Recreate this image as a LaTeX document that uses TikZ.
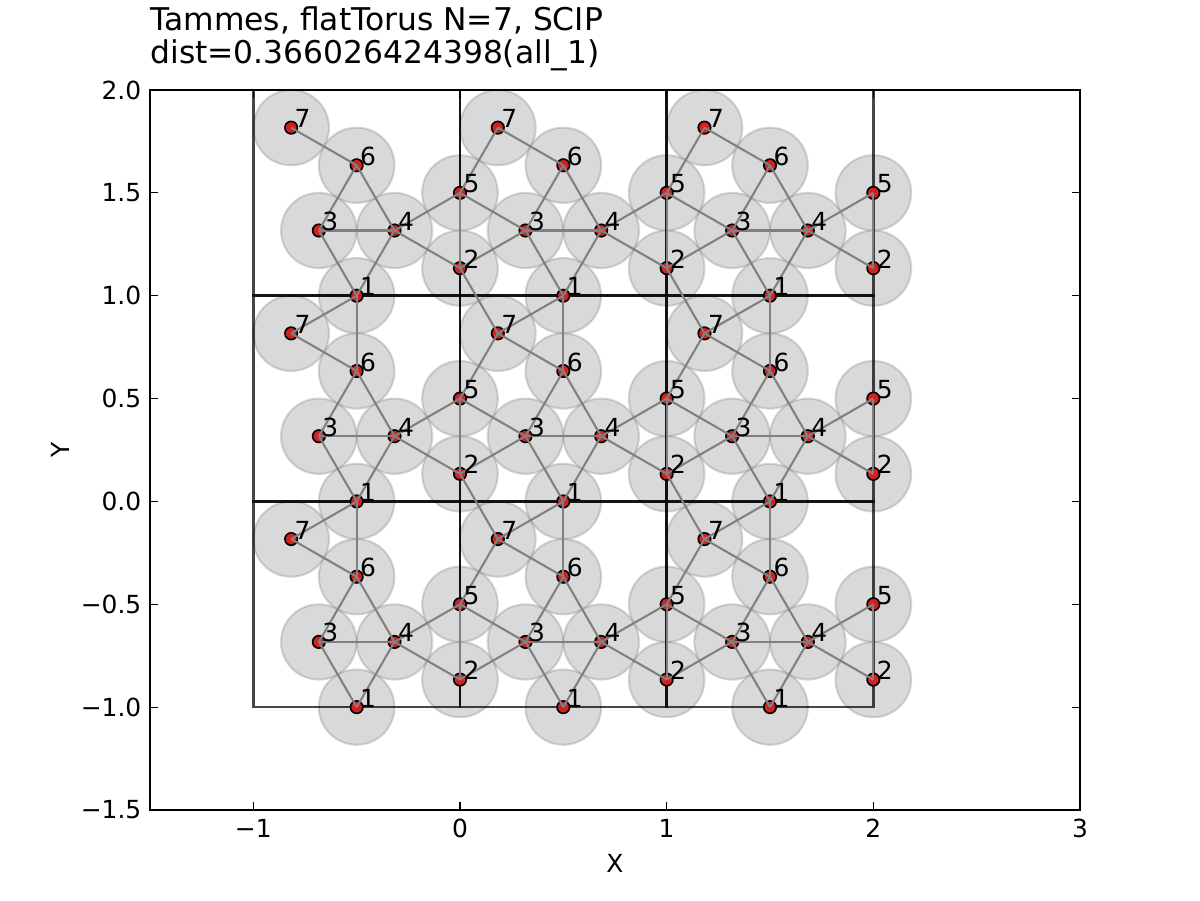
\documentclass[tikz,border=0pt]{standalone}
\usepackage{fontspec}
\setmainfont{DejaVu Sans}
\definecolor{markred}{RGB}{214,32,32}
\begin{document}
\begin{tikzpicture}[x=1.377778in,y=1.371429in,
  disk/.style={fill=black!50, fill opacity=0.3, draw=black!50, draw opacity=0.3, line width=1pt},
  cellbox/.style={draw=black, draw opacity=0.72, line width=1.2pt},
  dot/.style={circle, inner sep=0pt, minimum size=6pt, fill=markred, draw=black, line width=0.8pt},
  link/.style={draw=black!50, line width=1pt},
  lab/.style={anchor=base west, inner sep=0pt, font=\fontsize{12}{14}\selectfont},
  tickmark/.style={line width=0.5pt},
  ticklab/.style={inner sep=0pt, font=\fontsize{12}{14}\selectfont},
  titlelab/.style={anchor=base west, inner sep=0pt, font=\fontsize{15.1}{18}\selectfont}
]
\useasboundingbox (-2.225806,-1.9375) rectangle (3.580645,2.4375);
\def\pts{1/0.5/0, 2/1/0.133975, 3/0.316987/0.316987, 4/0.683013/0.316987, 5/1/0.5, 6/0.5/0.633975, 7/0.183013/0.816987}
\begin{scope}
\clip (-1.5,-1.5) rectangle (3,2);
% disks
\foreach \i/\px/\py in \pts {
  \foreach \p in {-1,0,1} {
    \foreach \q in {-1,0,1} {
      \pgfmathsetmacro\X{\px+\p}
      \pgfmathsetmacro\Y{\py+\q}
      \path[disk] (\X,\Y) circle [radius=0.183013];
    }
  }
}
% cells
\foreach \p in {-1,0,1} {
  \foreach \q in {-1,0,1} {
    \draw[cellbox] (\p,\q) rectangle ++(1,1);
  }
}
% markers
\foreach \i/\px/\py in \pts {
  \foreach \p in {-1,0,1} {
    \foreach \q in {-1,0,1} {
      \pgfmathsetmacro\X{\px+\p}
      \pgfmathsetmacro\Y{\py+\q}
      \pgfmathtruncatemacro\cx{\p+1}
      \pgfmathtruncatemacro\cy{\q+1}
      \node[dot] (n\i x\cx y\cy) at (\X,\Y) {};
    }
  }
}
% contact edges
\foreach \i/\j/\dx/\dy in {1/3/0/0, 1/4/0/0, 1/6/0/-1, 1/7/0/-1, 2/3/1/0, 2/4/0/0, 2/5/0/0, 2/7/1/-1, 3/4/0/0, 3/5/-1/0, 3/6/0/0, 4/5/0/0, 4/6/0/0, 5/7/1/0, 6/7/0/0} {
  \foreach \cx in {0,1,2} {
    \foreach \cy in {0,1,2} {
      \pgfmathtruncatemacro\ex{\cx+\dx}
      \pgfmathtruncatemacro\ey{\cy+\dy}
      \pgfmathtruncatemacro\ok{and(and(\ex>=0,\ex<=2),and(\ey>=0,\ey<=2))}
      \ifnum\ok=1
        \draw[link] (n\i x\cx y\cy.center) -- (n\j x\ex y\ey.center);
      \fi
    }
  }
}
% labels
\foreach \i/\px/\py in \pts {
  \foreach \p in {-1,0,1} {
    \foreach \q in {-1,0,1} {
      \pgfmathsetmacro\X{\px+\p+0.015}
      \pgfmathsetmacro\Y{\py+\q}
      \pgfmathtruncatemacro\cx{\p+1}
      \pgfmathtruncatemacro\cy{\q+1}
      \node[lab] (l\i x\cx y\cy) at (\X,\Y) {\i};
    }
  }
}
\end{scope}
% frame
\draw[line width=1pt] (-1.5,-1.5) rectangle (3,2);
% x ticks
\foreach \t/\s [count=\k] in {-1/−1, 0/0, 1/1, 2/2, 3/3} {
  \draw[tickmark] (\t,-1.5) -- ++(0,4pt);
  \draw[tickmark] (\t,2) -- ++(0,-4pt);
  \node[ticklab, anchor=base] (xt\k) at (\t,-1.6337) {\s};
}
% y ticks
\foreach \t/\s [count=\k] in {-1.5/−1.5, -1/−1.0, -0.5/−0.5, 0/0.0, 0.5/0.5, 1/1.0, 1.5/1.5, 2/2.0} {
  \draw[tickmark] (-1.5,\t) -- ++(4pt,0);
  \draw[tickmark] (3,\t) -- ++(-4pt,0);
  \node[ticklab, anchor=east] (yt\k) at (-1.5402,\t) {\s};
}
% axis labels
\node[ticklab, anchor=base] (xlabel) at (0.75,-1.8014) {X};
\node[ticklab, anchor=base, rotate=90] (ylabel) at (-1.8871,0.25) {Y};
% title
\node[titlelab] (title1) at (-1.5,2.2883) {Tammes, flatTorus N=7, SCIP};
\node[titlelab] (title2) at (-1.5,2.1298) {dist=0.366026424398(all\_1)};
\end{tikzpicture}
\end{document}
